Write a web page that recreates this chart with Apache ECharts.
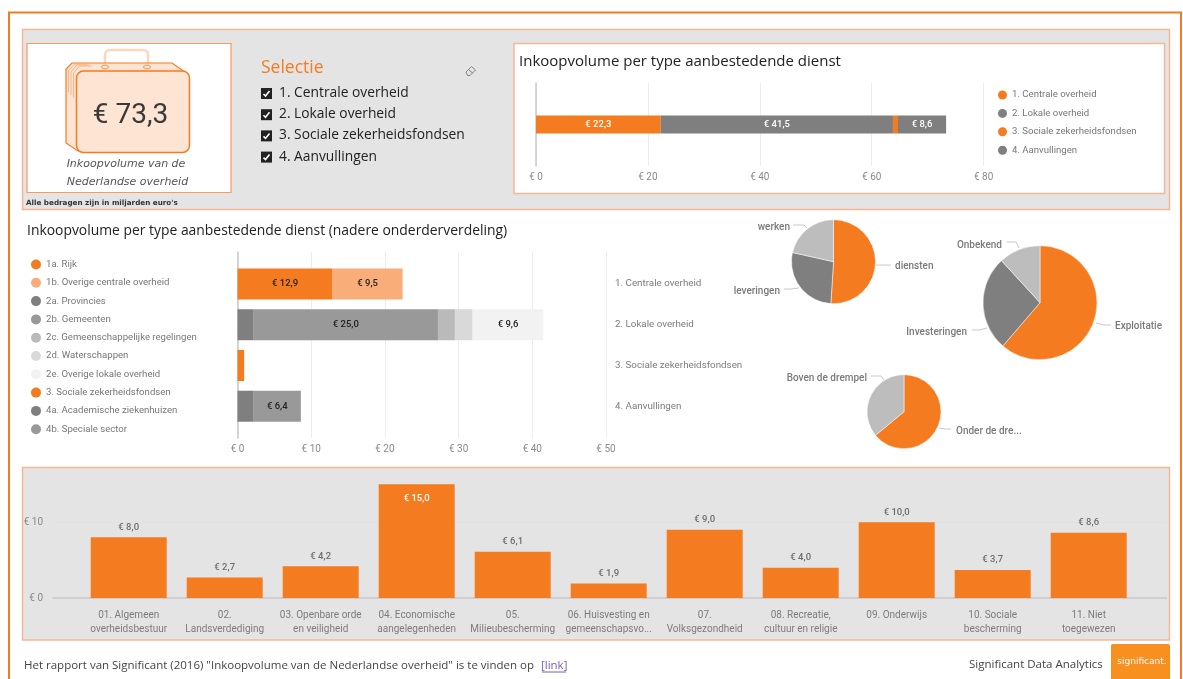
<!DOCTYPE html>
<html>
<head>
<meta charset="utf-8">
<style>
  html, body { margin: 0; padding: 0; background: #fff; }
  #main { width: 1183px; height: 679px; }
</style>
<script src="https://cdn.jsdelivr.net/npm/echarts@6/dist/echarts.min.js"></script>
</head>
<body>
<div id="main"></div>
<script>
// top bar
const topNames = ["1. Centrale overheid", "2. Lokale overheid", "3. Sociale zekerheidsfondsen", "4. Aanvullingen"];
const topValues = [22.3, 41.5, 0.9, 8.6];
const topColors = ["#F47B20", "#7F7F7F", "#F47B20", "#7F7F7F"];

// middle bar
const midCategories = ["1. Centrale overheid", "2. Lokale overheid", "3. Sociale zekerheidsfondsen", "4. Aanvullingen"];
const midNames = ["1a. Rijk", "1b. Overige centrale overheid", "2a. Provincies", "2b. Gemeenten",
  "2c. Gemeenschappelijke regelingen", "2d. Waterschappen", "2e. Overige lokale overheid",
  "3. Sociale zekerheidsfondsen ", "4a. Academische ziekenhuizen", "4b. Speciale sector"];
const midRows = [0, 0, 1, 1, 1, 1, 1, 2, 3, 3];
const midValues = [12.9, 9.5, 2.2, 25.0, 2.3, 2.4, 9.6, 0.9, 2.2, 6.4];
const midColors = ["#F47B20", "#F9AE79", "#7F7F7F", "#999999", "#BABABA", "#D9D9D9", "#F2F2F2", "#F47B20", "#7F7F7F", "#999999"];

// pies
const pieDienstNames = ["diensten", "leveringen", "werken"];
const pieDienstValues = [51, 27.5, 21.5];
const pieTypeNames = ["Exploitatie", "Investeringen", "Onbekend"];
const pieTypeValues = [61.3, 26.9, 11.8];
const pieDrempelNames = ["Onder de dre...", "Boven de drempel"];
const pieDrempelValues = [64, 36];

// bottom bar
const cofogLabels = ["01. Algemeen\noverheidsbestuur", "02.\nLandsverdediging", "03. Openbare orde\nen veiligheid",
  "04. Economische\naangelegenheden", "05.\nMilieubescherming", "06. Huisvesting en\ngemeenschapsvo...",
  "07.\nVolksgezondheid", "08. Recreatie,\ncultuur en religie", "09. Onderwijs\n", "10. Sociale\nbescherming", "11. Niet\ntoegewezen"];
const cofogValues = [8.0, 2.7, 4.2, 15.0, 6.1, 1.9, 9.0, 4.0, 10.0, 3.7, 8.6];

const selectie = ["1. Centrale overheid", "2. Lokale overheid", "3. Sociale zekerheidsfondsen", "4. Aanvullingen"];

const orange = "#F47B20";
const uiFont = "Open Sans";
const labelFont = "Roboto";

function euro(v) {
  return "€ " + v.toFixed(1).replace(".", ",");
}

function txt(x, y, text, size, color, extra) {
  return {
    type: "text", x: x, y: y, z: 5, silent: true,
    style: Object.assign({ text: text, fontSize: size, fill: color, fontFamily: uiFont, verticalAlign: "middle" }, extra || {}),
  };
}

function box(x, y, w, h, fill, stroke, lineWidth, z) {
  return {
    type: "rect", z: z === undefined ? -10 : z, silent: true,
    shape: { x: x, y: y, width: w, height: h },
    style: { fill: fill, stroke: stroke, lineWidth: lineWidth },
  };
}

function stroke(points, color, width, z) {
  return { type: "polyline", z: z, silent: true, shape: { points: points }, style: { fill: null, stroke: color, lineWidth: width } };
}

const panelBorder = "#F9B694";
const graphics = [
  stroke([[9, 679], [9, 12.5], [1181, 12.5], [1181, 679]], orange, 2, -11),
  box(22.5, 29.5, 1147, 180, "#E4E4E4", panelBorder, 1.5),
  box(27, 43.5, 204, 149, "#fff", "#F79A5E", 1.2, -9),
  box(514, 43.5, 650.5, 150, "#fff", panelBorder, 1.5, -9),
  box(22.5, 467.5, 1147, 172.5, "#E4E4E4", panelBorder, 1.5),
];

// suitcase
graphics.push({
  type: "rect", z: 1, silent: true,
  shape: { x: 105, y: 50, width: 43, height: 24, r: 5 },
  style: { fill: null, stroke: "#FBD7BE", lineWidth: 2.5 },
});
graphics.push({
  type: "polygon", z: 1, silent: true,
  shape: { points: [[72, 63], [172, 63], [188, 74], [188, 150], [78, 151], [66, 143], [66, 69]] },
  style: { fill: "#FDE4D3", stroke: "#F47B20", lineWidth: 1.2 },
});
[2.5, 5, 7.5].forEach(function (d) {
  graphics.push(stroke([[66 + d, 90 + d], [66 + d, 70 + d * 0.4], [72 + d, 63 + d * 0.4], [84 + d, 63 + d * 0.4]], "#F9A873", 0.8, 1));
});
graphics.push({
  type: "rect", z: 2, silent: true,
  shape: { x: 76.5, y: 71, width: 113, height: 81.5, r: 7 },
  style: { fill: "#FDE4D3", stroke: orange, lineWidth: 1.5 },
});
[105, 147].forEach(function (cx) {
  graphics.push({ type: "ellipse", z: 2, silent: true, shape: { cx: cx, cy: 67, rx: 3.5, ry: 1.8 }, style: { fill: "#FDE4D3", stroke: "#F58B46", lineWidth: 1 } });
});

graphics.push(txt(130.5, 115.5, "€ 73,3", 28, "#3a3a3a", { align: "center", fontFamily: labelFont }));
graphics.push(txt(126, 164.5, "Inkoopvolume van de", 11, "#555", { align: "center", fontFamily: "DejaVu Sans", fontStyle: "italic" }));
graphics.push(txt(127.5, 182.5, "Nederlandse overheid", 11, "#555", { align: "center", fontFamily: "DejaVu Sans", fontStyle: "italic" }));
graphics.push(txt(26, 203.5, "Alle bedragen zijn in miljarden euro's", 7.2, "#333", { fontFamily: "DejaVu Sans", fontWeight: "bold" }));

// selectie slicer
graphics.push(txt(261, 68, "Selectie", 17.5, orange));
selectie.forEach(function (name, i) {
  const y = 93.5 + i * 21.2;
  graphics.push({ type: "rect", z: 3, silent: true, shape: { x: 261, y: y - 5.5, width: 11, height: 11 }, style: { fill: "#222" } });
  graphics.push(stroke([[263.5, y + 0.5], [265.5, y + 2.5], [269.5, y - 2.5]], "#fff", 1.6, 4));
  graphics.push(txt(279, y - 0.5, name, 13.8, "#222"));
});
graphics.push({
  type: "polygon", z: 3, silent: true,
  shape: { points: [[466, 72], [471.5, 66.5], [475.5, 70], [470, 75.5], [467.5, 75.5]] },
  style: { fill: null, stroke: "#777", lineWidth: 0.9 },
});
graphics.push(stroke([[468.5, 69.5], [472.5, 73]], "#777", 0.9, 3));

graphics.push(txt(519, 62, "Inkoopvolume per type aanbestedende dienst", 15, "#222"));
graphics.push(txt(27, 231, "Inkoopvolume per type aanbestedende dienst (nadere onderderverdeling)", 13.9, "#222"));

// footer
graphics.push(txt(24, 665.5, "Het rapport van Significant (2016) \"Inkoopvolume van de Nederlandse overheid\" is te vinden op", 11.5, "#444"));
graphics.push(txt(541, 665.5, "[link]", 11.5, "#7A5FB5"));
graphics.push(stroke([[542, 672], [566, 672]], "#7A5FB5", 1, 5));
graphics.push(txt(969, 664.5, "Significant Data Analytics", 11.5, "#444"));
graphics.push({ type: "rect", z: 1, silent: true, shape: { x: 1111, y: 644, width: 59, height: 36, r: [2, 2, 0, 0] }, style: { fill: "#F7901E" } });
graphics.push(txt(1142, 662, "significant.", 9, "#fff", { align: "center", fontFamily: "DejaVu Sans" }));

const axisGrey = "#C8C8C8";
const splitGrey = "#EDEDED";
const tickLabel = { color: "#8A8A8A", fontFamily: labelFont, fontSize: 10 };

const series = [];

topNames.forEach(function (name, i) {
  series.push({
    type: "bar", name: name, stack: "top", xAxisIndex: 0, yAxisIndex: 0,
    barWidth: 18, data: [topValues[i]],
    itemStyle: { color: topColors[i] },
    label: {
      show: topValues[i] > 5, position: "inside", color: "#fff",
      fontFamily: labelFont, fontWeight: 500, fontSize: 9.5,
      formatter: function (p) { return euro(p.value); },
    },
  });
});

midNames.forEach(function (name, i) {
  const row = midCategories.map(function (c, r) { return r === midRows[i] ? midValues[i] : null; });
  series.push({
    type: "bar", name: name, stack: "mid", xAxisIndex: 2, yAxisIndex: 2,
    barWidth: 31, data: row,
    itemStyle: { color: midColors[i] },
    label: {
      show: midValues[i] > 5, position: "inside", color: "#222",
      fontFamily: labelFont, fontWeight: 500, fontSize: 9.5,
      formatter: function (p) { return p.value == null ? "" : euro(p.value); },
    },
  });
});

function pie(cx, cy, r, names, values, colors, spots) {
  return {
    type: "pie", center: [cx, cy], radius: r, startAngle: 90, clockwise: true,
    data: names.map(function (n, i) { return { name: n, value: values[i], itemStyle: { color: colors[i] } }; }),
    itemStyle: { borderColor: "#fff", borderWidth: 0.5 },
    label: { formatter: "{b}", overflow: "none", color: "#7A7A7A", fontFamily: labelFont, fontWeight: 500, fontSize: 10 },
    labelLine: { smooth: false, lineStyle: { color: "#C8C8C8", width: 1 } },
    labelLayout: function (p) {
      const s = spots[p.dataIndex];
      return { x: s.x, y: s.y, align: s.align, verticalAlign: "middle", labelLinePoints: s.line };
    },
    emphasis: { disabled: true },
    silent: true,
  };
}

series.push(pie(833.5, 261.7, 42, pieDienstNames, pieDienstValues, [orange, "#7F7F7F", "#BDBDBD"], [
  { x: 895, y: 266, align: "left", line: [[875, 265], [883, 265], [891, 265]] },
  { x: 780, y: 291, align: "right", line: [[799, 288], [791, 289], [784, 289]] },
  { x: 790, y: 227, align: "right", line: [[807, 228], [804, 225], [793, 225]] },
]));
series.push(pie(1040, 302.7, 57, pieTypeNames, pieTypeValues, [orange, "#7F7F7F", "#BDBDBD"], [
  { x: 1115, y: 326, align: "left", line: [[1096, 323], [1104, 325], [1111, 325]] },
  { x: 967, y: 332, align: "right", line: [[987, 328], [979, 330], [972, 330]] },
  { x: 1002, y: 245, align: "right", line: [[1019, 248], [1016, 242], [1007, 242]] },
]));
series.push(pie(904, 411.7, 37, pieDrempelNames, pieDrempelValues, [orange, "#BDBDBD"], [
  { x: 956, y: 431, align: "left", line: [[939, 428], [945, 429], [951, 429]] },
  { x: 867, y: 378, align: "right", line: [[884, 380], [881, 376], [871, 376]] },
]));

series.push({
  type: "bar", name: "cofog", xAxisIndex: 4, yAxisIndex: 4, barWidth: 76,
  itemStyle: { color: orange },
  data: cofogValues.map(function (v) {
    const big = v >= 15;
    return {
      value: v,
      label: {
        show: true, position: big ? "insideTop" : "top", distance: big ? 9 : 5,
        color: big ? "#fff" : "#6E6E6E", fontFamily: labelFont, fontWeight: 500, fontSize: 9.5,
        formatter: function (p) { return euro(p.value); },
      },
    };
  }),
});

const option = {
  animation: false,
  backgroundColor: "#fff",
  graphic: { elements: graphics },
  legend: [
    {
      data: topNames, orient: "vertical", left: 998, top: 90, itemWidth: 9, itemHeight: 9, itemGap: 8.4, padding: 0,
      icon: "circle", selectedMode: false, textStyle: { color: "#777", fontFamily: labelFont, fontSize: 9.6 },
    },
    {
      data: midNames, orient: "vertical", left: 31, top: 259.5, itemWidth: 10, itemHeight: 10, itemGap: 8.3, padding: 0,
      icon: "circle", selectedMode: false, textStyle: { color: "#777", fontFamily: labelFont, fontSize: 9.6 },
    },
  ],
  grid: [
    { left: 536, width: 447.6, top: 83, height: 83 },
    { left: 237.5, width: 368.5, top: 252, height: 186 },
    { left: 237.5, width: 368.5, top: 263.6, height: 163 },
    { left: 53, width: 1113.5, top: 446.4, height: 151.6 },
    { left: 80.7, width: 1056, top: 446.4, height: 151.6 },
  ],
  xAxis: [
    {
      gridIndex: 0, type: "value", min: 0, max: 80, interval: 20,
      axisLine: { show: false }, axisTick: { show: false },
      splitLine: { lineStyle: { color: splitGrey } },
      axisLabel: Object.assign({ margin: 6, formatter: "€ {value}" }, tickLabel),
    },
    {
      gridIndex: 1, type: "value", min: 0, max: 50, interval: 10,
      axisLine: { show: false }, axisTick: { show: false },
      splitLine: { lineStyle: { color: splitGrey } },
      axisLabel: Object.assign({ margin: 6, formatter: "€ {value}" }, tickLabel),
    },
    { gridIndex: 2, type: "value", min: 0, max: 50, show: false },
    {
      gridIndex: 3, type: "value", min: 0, max: 1, position: "bottom",
      axisLine: { show: true, onZero: false, lineStyle: { color: axisGrey, width: 1.5 } },
      axisTick: { show: false }, axisLabel: { show: false }, splitLine: { show: false },
    },
    {
      gridIndex: 4, type: "category", data: cofogLabels,
      axisLine: { show: false }, axisTick: { show: false },
      axisLabel: Object.assign({}, tickLabel, { interval: 0, margin: 10, lineHeight: 14, color: "#7C7C7C" }),
    },
  ],
  yAxis: [
    {
      gridIndex: 0, type: "category", data: ["Totaal"],
      axisLine: { lineStyle: { color: axisGrey, width: 1.5 } }, axisTick: { show: false }, axisLabel: { show: false },
    },
    {
      gridIndex: 1, type: "value", min: 0, max: 1,
      axisLine: { show: true, onZero: false, lineStyle: { color: axisGrey, width: 1.5 } },
      axisTick: { show: false }, axisLabel: { show: false }, splitLine: { show: false },
    },
    {
      gridIndex: 2, type: "category", data: midCategories, inverse: true, position: "right",
      axisLine: { show: false }, axisTick: { show: false },
      axisLabel: Object.assign({}, tickLabel, { margin: 9, fontSize: 9.8, padding: [3, 0, 0, 0], color: "#7C7C7C" }),
    },
    {
      gridIndex: 3, type: "value", min: 0, max: 20, interval: 10,
      axisLine: { show: false }, axisTick: { show: false },
      splitLine: { showMaxLine: false, lineStyle: { color: "#E0E0E0" } },
      axisLabel: Object.assign({}, tickLabel, { margin: 10, showMaxLabel: false, formatter: "€ {value}" }),
    },
    { gridIndex: 4, type: "value", min: 0, max: 20, show: false },
  ],
  series: series,
};

const chart = echarts.init(document.getElementById("main"), null, { renderer: "canvas" });
chart.setOption(option);
</script>
</body>
</html>
